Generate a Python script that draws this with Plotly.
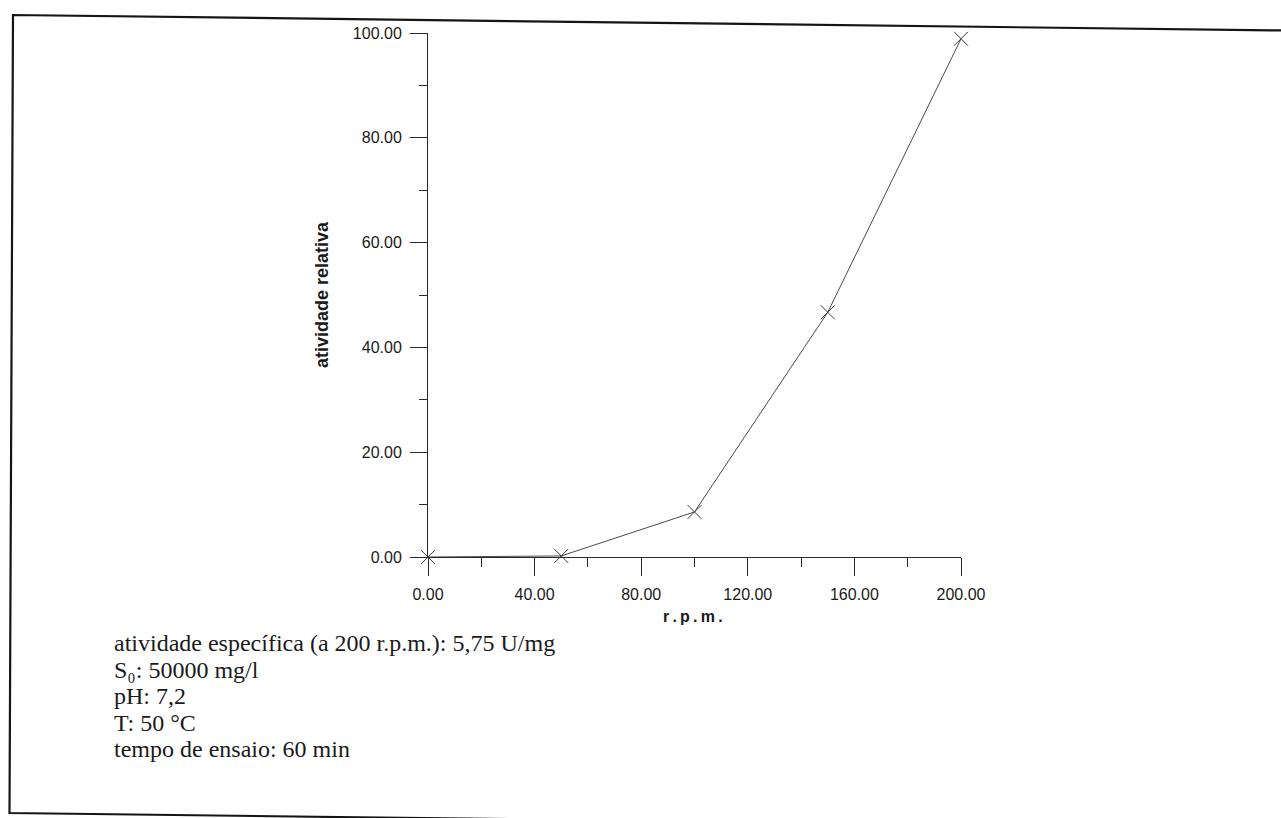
import plotly.graph_objects as go

# Relative enzyme activity versus agitation speed
rpm = [0, 50, 100, 150, 200]
atividade_relativa = [0.0, 0.2, 8.6, 46.7, 98.9]

x_ticks = [0, 40, 80, 120, 160, 200]
y_ticks = [0, 20, 40, 60, 80, 100]

condicoes = [
    "atividade específica (a 200 r.p.m.): 5,75 U/mg",
    "S₀: 50000 mg/l",
    "pH: 7,2",
    "T: 50 °C",
    "tempo de ensaio: 60 min",
]

W, H = 1281, 818
ML, MR, MT, MB = 428, 320, 33, 261
PW, PH = W - ML - MR, H - MT - MB


def px(x):
    return (x - ML) / PW


def py(y):
    return (H - MB - y) / PH


AX_COL = "#2a2a2a"
TXT_COL = "#1a1a1a"

fig = go.Figure()
fig.add_trace(go.Scatter(
    x=rpm, y=atividade_relativa,
    mode="lines+markers",
    line=dict(color="#4a4a4a", width=1),
    marker=dict(symbol="x-thin", size=14, line=dict(color="#3a3a3a", width=1)),
    cliponaxis=False,
    showlegend=False,
))

axis_font = dict(family="Liberation Sans, Arial, sans-serif", size=16, color=TXT_COL)

fig.update_xaxes(
    range=[0, 200], tickvals=x_ticks, tickformat=".2f",
    showline=True, linecolor=AX_COL, linewidth=1,
    ticks="outside", ticklen=18, tickwidth=1, tickcolor=AX_COL,
    minor=dict(dtick=40, tick0=20, ticks="outside", ticklen=9, tickwidth=1, tickcolor=AX_COL),
    showgrid=False, zeroline=False, tickfont=axis_font, ticklabelstandoff=5,
)
fig.update_yaxes(
    range=[0, 100], tickvals=y_ticks, tickformat=".2f",
    showline=True, linecolor=AX_COL, linewidth=1,
    ticks="outside", ticklen=17, tickwidth=1, tickcolor=AX_COL,
    minor=dict(dtick=20, tick0=10, ticks="outside", ticklen=8, tickwidth=1, tickcolor=AX_COL),
    showgrid=False, zeroline=False, tickfont=axis_font, ticklabelstandoff=5,
)

annotations = [
    dict(text="<b>atividade relativa</b>", x=px(322), y=py(295), xref="paper", yref="paper",
         textangle=-90, showarrow=False, xanchor="center", yanchor="middle",
         font=dict(family="Liberation Sans, Arial, sans-serif", size=18, color=TXT_COL)),
    dict(text="<b>r\u2009.\u2009p\u2009.\u2009m\u2009.</b>", x=px(693), y=py(616), xref="paper", yref="paper",
         showarrow=False, xanchor="center", yanchor="middle",
         font=dict(family="Liberation Sans, Arial, sans-serif", size=16, color=TXT_COL)),
]

linhas_y = [643, 670, 696, 723, 749]
for texto, yy in zip(condicoes, linhas_y):
    annotations.append(dict(
        text=texto, x=px(113), y=py(yy), xref="paper", yref="paper",
        showarrow=False, xanchor="left", yanchor="middle", borderpad=0,
        font=dict(family="Liberation Serif, Times New Roman, serif", size=24, color=TXT_COL),
    ))

# Frame around the figure (slightly tilted, open on the right)
x0, y0 = 13, 15
x1, y1 = 9.5, 813
slope = 0.0122
xr = 1300
path = (f"M {px(xr)},{py(y0 + slope * (xr - x0))} "
        f"L {px(x0)},{py(y0)} "
        f"L {px(x1)},{py(y1)} "
        f"L {px(xr)},{py(y1 + slope * (xr - x1))}")

fig.update_layout(
    width=W, height=H,
    margin=dict(l=ML, r=MR, t=MT, b=MB, pad=0),
    paper_bgcolor="white", plot_bgcolor="white",
    annotations=annotations,
    shapes=[dict(type="path", path=path, xref="paper", yref="paper",
                 line=dict(color="#151515", width=2.2), layer="above")],
)

fig.write_html("out.html", config={"displayModeBar": False})
